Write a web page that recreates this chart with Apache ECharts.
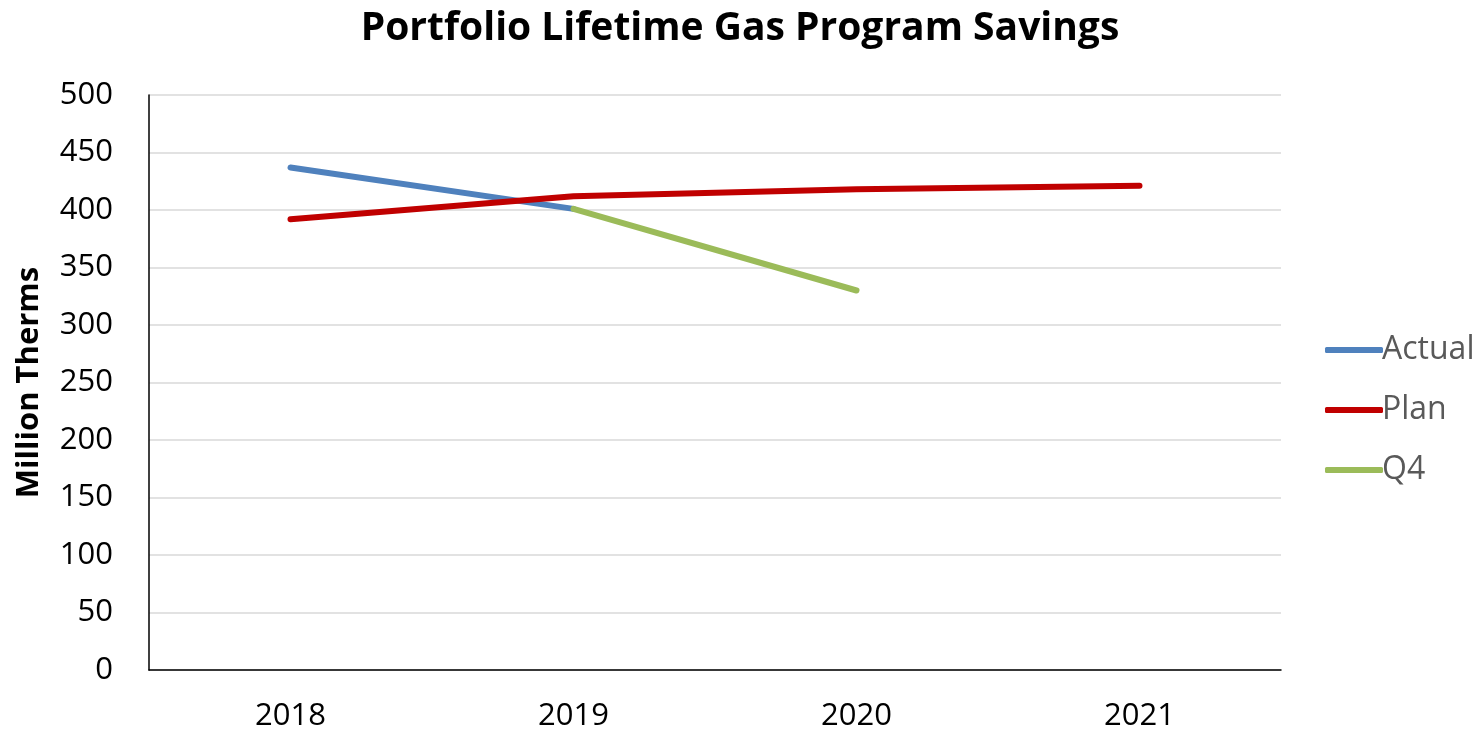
<!DOCTYPE html>
<html>
<head>
  <meta charset="utf-8">
  <title>Portfolio Lifetime Gas Program Savings</title>
  <script src="https://cdn.jsdelivr.net/npm/echarts@6/dist/echarts.min.js"></script>
  <style>
    html, body { margin: 0; padding: 0; background: #fff; }
    #main { width: 1482px; height: 735px; }
  </style>
</head>
<body>
<div id="main"></div>
<script>
  const years = ['2018', '2019', '2020', '2021'];
  const actual = [437, 401, null, null];
  const plan = [392, 412, 418, 421];
  const q4 = [null, 401, 330, null];

  const font = 'Open Sans, Liberation Sans, sans-serif';
  const chart = echarts.init(document.getElementById('main'));

  function lineSeries(name, data, color) {
    return {
      name: name,
      type: 'line',
      data: data,
      symbol: 'none',
      connectNulls: false,
      lineStyle: { color: color, width: 6, cap: 'round', join: 'round' },
      itemStyle: { color: color }
    };
  }

  chart.setOption({
    animation: false,
    title: {
      text: 'Portfolio Lifetime Gas Program Savings',
      left: 735,
      textAlign: 'center',
      top: 4,
      textStyle: { fontFamily: font, fontSize: 39, fontWeight: 'bold', color: '#000' }
    },
    legend: {
      orient: 'vertical',
      left: 1320,
      top: 327,
      itemWidth: 58,
      itemHeight: 6,
      itemGap: 24,
      icon: 'roundRect',
      textStyle: { fontFamily: font, fontSize: 32, lineHeight: 36, color: '#595959', padding: [0, 0, 0, -6] },
      data: ['Actual', 'Plan', 'Q4']
    },
    grid: { left: 149, right: 201, top: 95, bottom: 65, outerBoundsMode: 'none', containLabel: false },
    xAxis: {
      type: 'category',
      data: years,
      boundaryGap: true,
      axisLine: { lineStyle: { color: '#000', width: 1.5 } },
      axisTick: { show: false },
      axisLabel: { fontFamily: font, fontSize: 31, color: '#000', margin: 31 }
    },
    yAxis: {
      type: 'value',
      min: 0,
      max: 500,
      interval: 50,
      name: 'Million Therms',
      nameLocation: 'middle',
      nameGap: 104,
      nameTextStyle: { fontFamily: font, fontSize: 31, fontWeight: 'bold', color: '#000' },
      axisLine: { show: true, lineStyle: { color: '#000', width: 1.5 } },
      axisTick: { show: false },
      axisLabel: { fontFamily: font, fontSize: 31, color: '#000', margin: 36 },
      splitLine: { lineStyle: { color: '#d9d9d9', width: 1.5 } }
    },
    series: [
      lineSeries('Actual', actual, '#4F81BD'),
      lineSeries('Plan', plan, '#C00000'),
      lineSeries('Q4', q4, '#9BBB59')
    ]
  });
</script>
</body>
</html>
